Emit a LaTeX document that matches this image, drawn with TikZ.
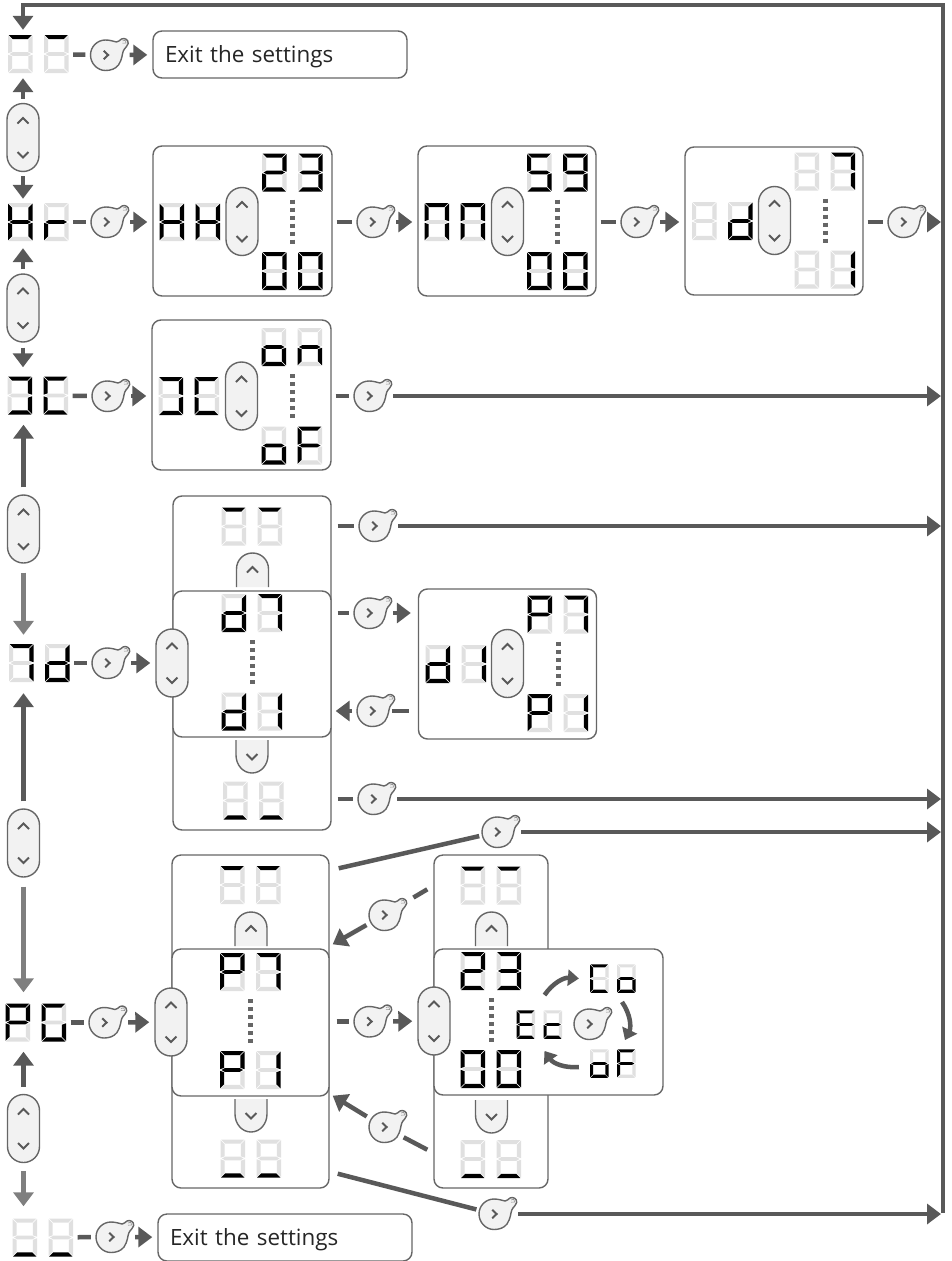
\documentclass[tikz,border=0pt]{standalone}
\usepackage{fontspec}
\setmainfont{Open Sans}
\usetikzlibrary{arrows.meta}

\definecolor{linkgray}{HTML}{595959}
\definecolor{lightlink}{HTML}{7F7F7F}
\definecolor{edgegray}{HTML}{666666}
\definecolor{facegray}{HTML}{F2F2F2}
\definecolor{segoff}{HTML}{E0E0E0}

\tikzset{
  seg0/.style={fill=segoff},
  seg1/.style={fill=black},
  panel/.style={draw=edgegray, line width=1.4pt, rounded corners=9pt, fill=white, inner sep=0pt},
  exitbox/.style={panel, minimum height=47pt, text width=230pt, inner xsep=12pt, align=left, text height=17pt, text depth=2pt, font=\fontsize{22.4}{26}\selectfont, text=black!85},
  lcd/.style={inner sep=0pt, minimum width=61pt, minimum height=38pt},
  bulbspot/.style={circle, inner sep=0pt, minimum size=30pt},
  pillspot/.style={draw=edgegray, line width=1.4pt, fill=facegray, rounded corners=16pt, inner sep=0pt, minimum width=32pt, minimum height=68pt},
  chevron/.style={draw=linkgray, line width=2pt},
  dots/.style={draw=edgegray, line width=5pt, dash pattern=on 4pt off 4pt, shorten <=8pt, shorten >=7pt},
  link/.style={draw=linkgray, line width=4.5pt, shorten <=4pt, shorten >=5pt},
  arrow/.style={link, -{Triangle[length=14pt,width=20pt]}, shorten <=9pt, shorten >=5pt},
  vert/.style 2 args={arrow, shorten <=#1, shorten >=#2},
  swirl/.style={draw=linkgray, line width=4.5pt, -{Triangle[length=11pt,width=16pt]}},
  tabup/.pic={
    \path[draw=edgegray, line width=1.4pt, fill=facegray] (-16,0) -- (-16,-18) .. controls (-16,-27) and (-9,-34) .. (0,-34) .. controls (9,-34) and (16,-27) .. (16,-18) -- (16,0);
    \draw[chevron] (-5.5,-14.5) -- (0,-20) -- (5.5,-14.5);
  },
  tabdown/.pic={
    \path[draw=edgegray, line width=1.4pt, fill=facegray] (-16,0) -- (-16,15) .. controls (-16,25) and (-9,33) .. (0,33) .. controls (9,33) and (16,25) .. (16,15) -- (16,0);
    \draw[chevron] (-5.5,14) -- (0,19.5) -- (5.5,14);
  }
}

% seven segments a b c d e f g, origin at the top left corner of the digit
\newcommand{\lcddigit}[7]{
  \fill[seg#1] (.7,0) -- (23.8,0) -- (19.9,4.1) -- (4.6,4.1) -- cycle;
  \fill[seg#2] (24.5,.7) -- (24.5,18.2) -- (20.4,16.8) -- (20.4,4.6) -- cycle;
  \fill[seg#3] (24.5,19.8) -- (24.5,37.3) -- (20.4,33.4) -- (20.4,21.2) -- cycle;
  \fill[seg#4] (.7,38) -- (23.8,38) -- (19.9,33.9) -- (4.6,33.9) -- cycle;
  \fill[seg#5] (0,19.8) -- (0,37.3) -- (4.1,33.4) -- (4.1,21.2) -- cycle;
  \fill[seg#6] (0,.7) -- (0,18.2) -- (4.1,16.8) -- (4.1,4.6) -- cycle;
  \fill[seg#7] (1.5,19) -- (4.7,17.2) -- (19.8,17.2) -- (23,19) -- (19.8,20.8) -- (4.7,20.8) -- cycle;
}
\newcommand{\lcdpair}[5][1]{
  \node[lcd, minimum width=#1*61pt, minimum height=#1*38pt] (#2) at (#3) {};
  \begin{scope}[shift={(#2.center)}, scale=#1]
    \begin{scope}[shift={(-30.5,-19)}] \lcddigit #4 \end{scope}
    \begin{scope}[shift={(5.5,-19)}] \lcddigit #5 \end{scope}
  \end{scope}
}
\newcommand{\bulb}[2]{
  \node[bulbspot] (#1) at (#2) {};
  \begin{scope}[shift={(#1.center)}]
    \path[draw=edgegray, line width=1.4pt, fill=facegray] (0,-15) .. controls (5,-15) and (8,-13.5) .. (11,-13) .. controls (13,-12.8) and (14,-15) .. (16,-16) .. controls (19,-17.5) and (23,-15.5) .. (22.7,-11.5) .. controls (22.5,-8.5) and (19.5,-8) .. (17.8,-4) .. controls (16.5,-1) and (17,4) .. (13,10) .. controls (10,14) and (5,15.5) .. (0,15.5) .. controls (-8.3,15.5) and (-15,8.3) .. (-15,0) .. controls (-15,-8.3) and (-8.3,-15) .. (0,-15) -- cycle;
    \draw[edgegray!70, line width=.6pt] (17,-14) .. controls (20,-15) .. (20.5,-12) -- (17,-11.8);
    \draw[chevron] (-1.8,-4.2) -- (2.6,0) -- (-1.8,4.2);
  \end{scope}
}
\newcommand{\pill}[2]{
  \node[pillspot] (#1) at (#2) {};
  \begin{scope}[shift={(#1.center)}]
    \draw[chevron] (-5.5,-14) -- (0,-19.5) -- (5.5,-14);
    \draw[chevron] (-5.5,14.5) -- (0,20) -- (5.5,14.5);
  \end{scope}
}

\begin{document}
\begin{tikzpicture}[x=1pt, y=-1pt]
\useasboundingbox (0,0) rectangle (951,1261);
\coordinate (busHigh) at (943,5);
\coordinate (busLow) at (943,1213);

% left column
\lcdpair{dispExit}{38.5,54}{1000000}{1000000}
\lcdpair{dispHr}{38.5,222}{0110111}{0000101}
\lcdpair{dispOc}{38,395.5}{1111000}{1001110}
\lcdpair{dispTd}{39.5,663}{1110000}{0111101}
\lcdpair{dispPg}{36,1022.5}{1100111}{1011110}
\lcdpair{dispEnd}{43,1237.5}{0001000}{0001000}
\pill{pillA}{23,137.5}
\pill{pillB}{23,308}
\pill{pillC}{23.5,529}
\pill{pillD}{23.5,843}
\pill{pillE}{23.5,1128.5}

% exit boxes
\node[exitbox] (exitTop) at (280,54.5) {Exit the settings};
\node[exitbox] (exitEnd) at (285,1237.5) {Exit the settings};

% hours, minutes, day
\node[panel, minimum width=179pt, minimum height=150pt] (hhBox) at (242.5,221) {};
\lcdpair{hhName}{190,222}{0110111}{0110111}
\lcdpair{hhMax}{292.5,172.5}{1101101}{1111001}
\lcdpair{hhMin}{292.5,271}{1111110}{1111110}
\pill{hhPill}{242,221.5}
\draw[dots] (hhMax) -- (hhMin);
\node[panel, minimum width=178pt, minimum height=150pt] (nnBox) at (507,221) {};
\lcdpair{nnName}{455,222}{1110110}{1110110}
\lcdpair{nnMax}{557.5,172.5}{1011011}{1111011}
\lcdpair{nnMin}{557.5,271}{1111110}{1111110}
\pill{nnPill}{507.5,221.5}
\draw[dots] (nnMax) -- (nnMin);
\node[panel, minimum width=178pt, minimum height=148pt] (ddBox) at (774,221) {};
\lcdpair{ddName}{722.5,221}{0000000}{0111101}
\lcdpair{ddMax}{825,171.5}{0000000}{1110000}
\lcdpair{ddMin}{825,269.5}{0000000}{0110000}
\pill{ddPill}{774.5,220.5}
\draw[dots] (ddMax) -- (ddMin);

% on and off
\node[panel, minimum width=179pt, minimum height=150pt] (ocBox) at (241.5,395) {};
\lcdpair{ocName}{189,396}{1111000}{1001110}
\lcdpair{ocMax}{292,347}{0011101}{0010101}
\lcdpair{ocMin}{292,445.5}{0011101}{1000111}
\pill{ocPill}{241.5,396}
\draw[dots] (ocMax) -- (ocMin);

% d stack
\node[panel, minimum width=158pt, minimum height=334pt] (tdOuter) at (252,663) {};
\lcdpair{tdHigh}{252,526.5}{1000000}{1000000}
\lcdpair{tdLow}{253.5,800.5}{0001000}{0001000}
\pic at (252.5,587) {tabup};
\pic at (252,740) {tabdown};
\node[panel, minimum width=158pt, minimum height=146pt] (tdInner) at (252,664) {};
\lcdpair{tdMax}{252,613}{0111101}{1110000}
\lcdpair{tdMin}{252,711.5}{0111101}{0110000}
\draw[dots] (tdMax) -- (tdMin);
\pill{tdPill}{172,663}
\node[panel, minimum width=178pt, minimum height=150pt] (dpBox) at (507.5,664) {};
\lcdpair{dpName}{456,664}{0111101}{0110000}
\lcdpair{dpMax}{558,614.5}{1100111}{1110000}
\lcdpair{dpMin}{558,713}{1100111}{0110000}
\pill{dpPill}{507.5,663.5}
\draw[dots] (dpMax) -- (dpMin);

% P stack
\node[panel, minimum width=157pt, minimum height=333pt] (pgOuter) at (250.5,1021.5) {};
\lcdpair{pgHigh}{250.5,885}{1000000}{1000000}
\lcdpair{pgLow}{251,1158.5}{0001000}{0001000}
\pic at (251,946) {tabup};
\pic at (251,1099) {tabdown};
\node[panel, minimum width=157pt, minimum height=147pt] (pgInner) at (250.5,1022.5) {};
\lcdpair{pgMax}{250.5,972}{1100111}{1110000}
\lcdpair{pgMin}{250.5,1070}{1100111}{0110000}
\draw[dots] (pgMax) -- (pgMin);
\pill{pgPill}{171,1022}

% value stack
\node[panel, minimum width=114pt, minimum height=333pt] (ecOuter) at (491,1021.5) {};
\lcdpair{ecHigh}{491,885.5}{1000000}{1000000}
\lcdpair{ecLow}{491,1159}{0001000}{0001000}
\pic at (491.5,946) {tabup};
\pic at (491.5,1100) {tabdown};
\node[panel, minimum width=229pt, minimum height=146pt] (ecInner) at (548.5,1022) {};
\lcdpair{ecMax}{491,971}{1101101}{1111001}
\lcdpair{ecMin}{491,1069}{1111110}{1111110}
\draw[dots] (ecMax) -- (ecMin);
\pill{ecPill}{434,1021}
\lcdpair[.75]{ecName}{539.5,1024.5}{1001111}{0001101}
\lcdpair[.75]{ecCo}{613,978.5}{1001110}{0011101}
\lcdpair[.75]{ecOf}{613,1063.5}{0011101}{1000111}
\bulb{ecBulb}{589,1024}
\draw[swirl] ([shift={(5,-15)}]ecName.north) to[bend left=30] ([xshift=-11]ecCo.west);
\draw[swirl] ([shift={(9,9)}]ecCo.south) to[bend left=30] ([shift={(12,-9)}]ecOf.north);
\draw[swirl] ([shift={(-11,3.5)}]ecOf.west) to[bend left=30] ([shift={(5,12)}]ecName.south);

% bulbs
\bulb{bExit}{105.5,55}
\bulb{bHr}{106,222}
\bulb{bHh}{372,222}
\bulb{bNn}{636,222}
\bulb{bDd}{903,222}
\bulb{bOc}{107,396}
\bulb{bOn}{369,396}
\bulb{bTd}{107,663}
\bulb{bHigh}{374,526}
\bulb{bDp}{369,613}
\bulb{bBack}{372,711}
\bulb{bLow}{373,799}
\bulb{bPg}{104,1022.5}
\bulb{bEnd}{111,1237}
\bulb{bVal}{369,1021.5}
\bulb{bUp}{497,832}
\bulb{bDown}{494,1214}
\bulb{bValUp}{384,915}
\bulb{bValDown}{384,1127}

% column arrows
\draw[vert={4pt}{5pt}] (pillA.north) -- (pillA.north |- dispExit.south);
\draw[vert={4pt}{4pt}] (pillA.south) -- (pillA.south |- dispHr.north);
\draw[vert={4pt}{7pt}] (pillB.north) -- (pillB.north |- dispHr.south);
\draw[vert={5pt}{9pt}] (pillB.south) -- (pillB.south |- dispOc.north);
\draw[vert={7pt}{10pt}] (pillC.north) -- (pillC.north |- dispOc.south);
\draw[vert={9pt}{9pt}, draw=lightlink] (pillC.south) -- (pillC.south |- dispTd.north);
\draw[vert={7pt}{11pt}] (pillD.north) -- (pillD.north |- dispTd.south);
\draw[vert={9pt}{11pt}, draw=lightlink] (pillD.south) -- (pillD.south |- dispPg.north);
\draw[vert={7pt}{10pt}] (pillE.north) -- (pillE.north |- dispPg.south);
\draw[vert={8pt}{12pt}, draw=lightlink] (pillE.south) -- (pillE.south |- dispEnd.north);

% rows
\draw[link] (dispExit) -- (bExit);
\draw[arrow] (bExit) -- (exitTop);
\draw[link] (dispHr) -- (bHr);
\draw[arrow] (bHr) -- (bHr -| hhBox.west);
\draw[link] (hhBox.east |- bHh) -- (bHh);
\draw[arrow] (bHh) -- (bHh -| nnBox.west);
\draw[link] (nnBox.east |- bNn) -- (bNn);
\draw[arrow] (bNn) -- (bNn -| ddBox.west);
\draw[link] (ddBox.east |- bDd) -- (bDd);
\draw[arrow, shorten >=2pt] (bDd) -- (bDd -| busHigh);
\draw[link] (dispOc) -- (bOc);
\draw[arrow] (bOc) -- (bOc -| ocBox.west);
\draw[link] (ocBox.east |- bOn) -- (bOn);
\draw[arrow, shorten >=2pt] (bOn) -- (bOn -| busHigh);
\draw[link, shorten <=6pt] (tdOuter.east |- bHigh) -- (bHigh);
\draw[arrow, shorten >=2pt] (bHigh) -- (bHigh -| busHigh);
\draw[link] (dispTd) -- (bTd);
\draw[arrow] (bTd) -- (tdPill);
\draw[link, shorten <=6pt] (tdInner.east |- bDp) -- (bDp);
\draw[arrow, shorten >=7pt] (bDp) -- (bDp -| dpBox.west);
\draw[link, shorten <=9pt] (dpBox.west |- bBack) -- (bBack);
\draw[arrow, shorten <=5pt, shorten >=4pt] (bBack) -- (bBack -| tdInner.east);
\draw[link, shorten <=6pt] (tdOuter.east |- bLow) -- (bLow);
\draw[arrow, shorten >=2pt] (bLow) -- (bLow -| busHigh);
\draw[link] (dispPg) -- (bPg);
\draw[arrow] (bPg) -- (pgPill);
\draw[link] (dispEnd) -- (bEnd);
\draw[arrow] (bEnd) -- (exitEnd);
\draw[link, shorten <=7pt] (pgInner.east |- bVal) -- (bVal);
\draw[arrow] (bVal) -- (ecPill);
\draw[link, shorten <=0pt, shorten >=3pt] ([shift={(9,14)}]pgOuter.north east) -- (bUp);
\draw[arrow, shorten >=2pt] (bUp) -- (bUp -| busHigh);
\draw[link, shorten <=0pt, shorten >=3pt] ([shift={(8,-15)}]pgOuter.south east) -- (bDown);
\draw[arrow, shorten >=2pt] (bDown) -- (bDown -| busHigh);
\draw[link, shorten <=0pt, shorten >=19pt] ([shift={(-6,35)}]ecOuter.north west) -- (bValUp);
\draw[arrow, shorten <=5pt, shorten >=0pt] (bValUp) -- ([shift={(3,-4)}]pgInner.north east);
\draw[link, shorten <=0pt, shorten >=7pt] ([shift={(-6,-39)}]ecOuter.south west) -- (bValDown);
\draw[arrow, shorten <=5pt, shorten >=0pt] (bValDown) -- ([shift={(3,-1)}]pgInner.south east);

% bus on the right, back to the top
\draw[arrow, shorten <=0pt] (busLow) -- (busHigh) -- (busHigh -| pillA) -- (pillA |- dispExit.north);
\end{tikzpicture}
\end{document}
